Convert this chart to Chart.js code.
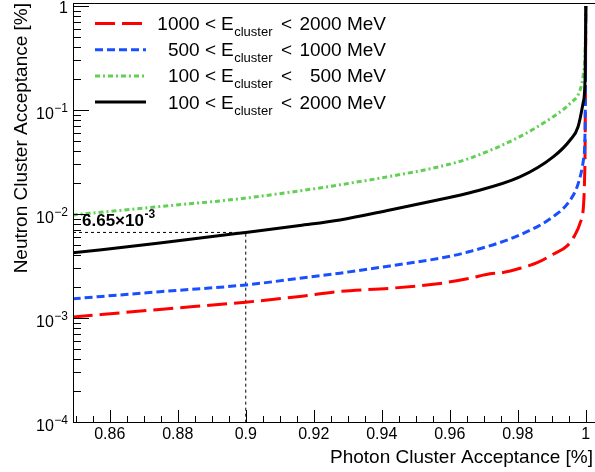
<!DOCTYPE html>
<html>
<head>
<meta charset="utf-8">
<script src="https://cdn.jsdelivr.net/npm/chart.js@4.4.0/dist/chart.umd.min.js"></script>
<style>
  html, body { margin: 0; padding: 0; background: #fff; }
  #chart { display: block; }
</style>
</head>
<body>
<canvas id="chart" width="595" height="472"></canvas>
<script>
// 曲線資料
const redX = [0.8491, 0.8747, 0.9, 0.9159, 0.9277, 0.9424, 0.9571, 0.9659, 0.9718, 0.9757, 0.9807, 0.9857, 0.9904, 0.9945, 0.9968, 0.9983, 0.9993, 0.9996, 0.9998, 1.0];
const redY = [1.02e-3, 1.21e-3, 1.42e-3, 1.61e-3, 1.80e-3, 1.93e-3, 2.15e-3, 2.41e-3, 2.66e-3, 2.74e-3, 3.01e-3, 3.40e-3, 4.10e-3, 4.94e-3, 6.29e-3, 8.17e-3, 1.18e-2, 1.98e-2, 4.82e-2, 1.0];

const blueX = [0.8491, 0.8747, 0.9, 0.9159, 0.9277, 0.9424, 0.9571, 0.9659, 0.9806, 0.9904, 0.9954, 0.9978, 0.9993, 0.9998, 1.0];
const blueY = [1.53e-3, 1.79e-3, 2.08e-3, 2.41e-3, 2.70e-3, 3.17e-3, 3.76e-3, 4.36e-3, 6.29e-3, 9.44e-3, 1.36e-2, 1.98e-2, 3.31e-2, 6.92e-2, 1.0];

const greenX = [0.8491, 0.8747, 0.8982, 0.9159, 0.9277, 0.9424, 0.9571, 0.9659, 0.9806, 0.9904, 0.9954, 0.9983, 0.9993, 0.9998, 1.0];
const greenY = [9.79e-3, 1.18e-2, 1.40e-2, 1.67e-2, 1.91e-2, 2.30e-2, 2.86e-2, 3.44e-2, 5.55e-2, 8.63e-2, 0.116, 0.156, 0.225, 0.377, 1.0];

const blackX = [0.8491, 0.8747, 0.9, 0.9159, 0.9277, 0.9424, 0.9571, 0.9659, 0.9806, 0.9904, 0.9954, 0.9977, 0.9992, 0.9998, 1.0];
const blackY = [4.23e-3, 5.25e-3, 6.65e-3, 7.76e-3, 8.77e-3, 1.094e-2, 1.38e-2, 1.60e-2, 2.27e-2, 3.54e-2, 5.15e-2, 6.87e-2, 0.117, 0.207, 1.0];

// 圖例文字
const legendLow = ["1000", "500", "100", "100"];
const legendHigh = ["2000", "1000", "500", "2000"];

// 座標軸
const xMin = 0.8492, xMax = 1.0027;
const yMin = 1e-4, yMax = 1.069;
const xTicks = [0.86, 0.88, 0.9, 0.92, 0.94, 0.96, 0.98, 1.0];
const xTickLabels = ["0.86", "0.88", "0.9", "0.92", "0.94", "0.96", "0.98", "1"];
const yDecades = [-4, -3, -2, -1, 0];

// 標記點
const markX = 0.9, markY = 6.65e-3;

const FONT = '"Liberation Sans", Arial, Helvetica, sans-serif';

const styles = [
  { color: "#ff0000", dash: [20, 7], order: 4 },
  { color: "#1a4fff", dash: [8, 4], order: 3 },
  { color: "#62cf55", dash: [5, 3, 2, 3], order: 2 },
  { color: "#000000", dash: [], order: 1 },
];

const toPoints = (xs, ys) => xs.map((v, i) => ({ x: v, y: ys[i] }));
const curves = [toPoints(redX, redY), toPoints(blueX, blueY), toPoints(greenX, greenY), toPoints(blackX, blackY)];

const datasets = curves.map((pts, i) => ({
  data: pts,
  borderColor: styles[i].color,
  borderDash: styles[i].dash,
  borderWidth: 3,
  pointRadius: 0,
  fill: false,
  cubicInterpolationMode: "monotone",
  order: styles[i].order,
}));

// 虛線標記
datasets.push({
  data: [{ x: xMin, y: markY }, { x: markX, y: markY }, { x: markX, y: yMin }],
  borderColor: "#000",
  borderDash: [3, 3],
  borderWidth: 1,
  pointRadius: 0,
  fill: false,
  tension: 0,
  order: 5,
});

// ROOT 風格的框、刻度、文字與圖例
const rootStyle = {
  id: "rootStyle",
  afterDraw(chart) {
    const { ctx, chartArea: a, scales: { x, y } } = chart;
    ctx.save();
    ctx.strokeStyle = "#000";
    ctx.fillStyle = "#000";
    ctx.lineWidth = 1;
    ctx.setLineDash([]);

    // 外框
    ctx.strokeRect(a.left + 0.5, a.top + 0.5, a.right - a.left, a.bottom - a.top);

    // 刻度
    ctx.beginPath();
    for (let i = 0; i <= 30; i++) {
      const px = Math.round(x.getPixelForValue(0.85 + i * 0.005)) + 0.5;
      const len = i % 4 === 2 ? 12 : 6;
      ctx.moveTo(px, a.bottom);
      ctx.lineTo(px, a.bottom - len);
    }
    yDecades.forEach((e) => {
      for (let m = 1; m <= 9; m++) {
        const v = m * Math.pow(10, e);
        if (v > yMax) break;
        const py = Math.round(y.getPixelForValue(v)) + 0.5;
        ctx.moveTo(a.left, py);
        ctx.lineTo(a.left + (m === 1 ? 16 : 8), py);
      }
    });
    ctx.stroke();

    // x 刻度文字
    ctx.font = "16px " + FONT;
    ctx.textAlign = "center";
    ctx.textBaseline = "alphabetic";
    xTicks.forEach((v, i) => {
      ctx.fillText(xTickLabels[i], x.getPixelForValue(v), a.bottom + 17);
    });

    // y 刻度文字
    yDecades.forEach((e) => {
      const py = y.getPixelForValue(Math.pow(10, e));
      ctx.textAlign = "right";
      if (e === 0) {
        ctx.font = "16px " + FONT;
        ctx.fillText("1", 68, py + 7);
        return;
      }
      const sup = "\u2212" + (-e);
      ctx.font = "12px " + FONT;
      const w = ctx.measureText(sup).width;
      ctx.fillText(sup, 68, py + 2);
      ctx.font = "16px " + FONT;
      ctx.fillText("10", 68 - w - 0.5, py + 9);
    });

    // 軸標題
    ctx.font = "19px " + FONT;
    ctx.textAlign = "right";
    ctx.fillText("Photon Cluster Acceptance [%]", 593, 463);
    ctx.save();
    ctx.translate(27, a.top);
    ctx.rotate(-Math.PI / 2);
    ctx.fillText("Neutron Cluster Acceptance [%]", 0, 0);
    ctx.restore();

    // 標記文字
    const mx = a.left + 9;
    const my = y.getPixelForValue(markY) - 6;
    ctx.textAlign = "left";
    ctx.font = "bold 17px " + FONT;
    const main = "6.65\u00d710";
    ctx.fillText(main, mx, my);
    const mw = ctx.measureText(main).width;
    ctx.font = "bold 12px " + FONT;
    ctx.fillText("-3", mx + mw + 0.5, my - 8);

    // 圖例
    legendLow.forEach((lo, i) => {
      const ly = 23.5 + i * 26.2;
      const base = ly + 6.5;
      ctx.save();
      ctx.strokeStyle = styles[i].color;
      ctx.lineWidth = 3;
      ctx.setLineDash(styles[i].dash);
      ctx.beginPath();
      ctx.moveTo(95, ly);
      ctx.lineTo(146, ly);
      ctx.stroke();
      ctx.restore();

      ctx.font = "19px " + FONT;
      ctx.textAlign = "right";
      ctx.fillText(lo + " <", 216, base);
      ctx.textAlign = "left";
      ctx.fillText("E", 221, base);
      const ew = ctx.measureText("E").width;
      ctx.font = "13px " + FONT;
      ctx.fillText("cluster", 221 + ew + 0.5, base + 6);
      ctx.font = "19px " + FONT;
      ctx.fillText("<", 281, base);
      ctx.textAlign = "right";
      ctx.fillText(legendHigh[i] + " MeV", 386, base);
    });

    ctx.restore();
  },
};

new Chart(document.getElementById("chart").getContext("2d"), {
  type: "line",
  data: { datasets },
  options: {
    responsive: false,
    animation: false,
    devicePixelRatio: 1,
    layout: { padding: { left: 73, top: 3, right: 0, bottom: 50 } },
    plugins: { legend: { display: false }, tooltip: { enabled: false } },
    scales: {
      x: { type: "linear", min: xMin, max: xMax, bounds: "data", display: false },
      y: { type: "logarithmic", min: yMin, max: yMax, bounds: "data", display: false },
    },
  },
  plugins: [rootStyle],
});
</script>
</body>
</html>
